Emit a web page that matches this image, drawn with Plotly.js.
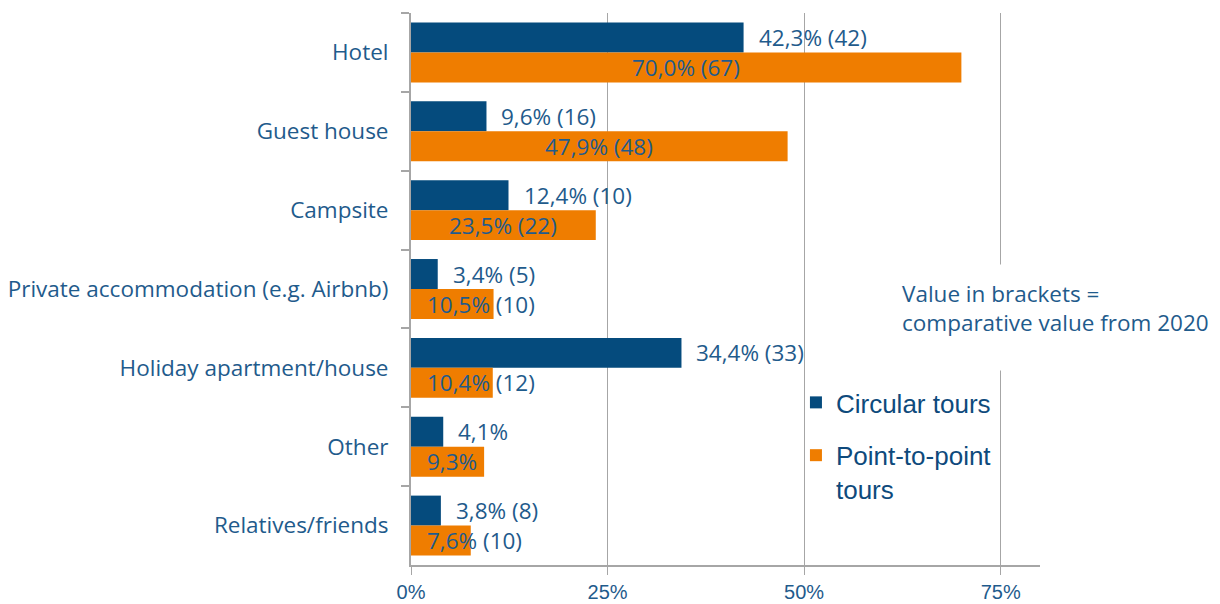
<!DOCTYPE html>
<html>
<head>
<meta charset="utf-8">
<script src="https://cdn.plot.ly/plotly-3.0.1.min.js"></script>
<style>html,body{margin:0;padding:0;background:#fff;}#chart{width:1220px;height:604px;}</style>
</head>
<body>
<div id="chart"></div>
<script>
const categories = ["Hotel", "Guest house", "Campsite", "Private accommodation (e.g. Airbnb)", "Holiday apartment/house", "Other", "Relatives/friends"];
const circularValues = [42.3, 9.6, 12.4, 3.4, 34.4, 4.1, 3.8];
const pointValues = [70.0, 47.9, 23.5, 10.5, 10.4, 9.3, 7.6];
const circularLabels = ["42,3% (42)", "9,6% (16)", "12,4% (10)", "3,4% (5)", "34,4% (33)", "4,1%", "3,8% (8)"];
const pointLabels = ["70,0% (67)", "47,9% (48)", "23,5% (22)", "10,5% (10)", "10,4% (12)", "9,3%", "7,6% (10)"];
const xTickValues = [0, 25, 50, 75];
const xTickLabels = ["0%", "25%", "50%", "75%"];
const noteText = "Value in brackets =<br>comparative value from 2020";

const BLUE = "#054B7D";
const ORANGE = "#EF7D00";
const TEXT = "#1F5B8C";
const GRID = "#A6A6A6";
const FONT = "'Open Sans', Lato, sans-serif";
const W = 400;
const FS = 22.5;

const traces = [
  {type: "bar", orientation: "h", name: "Circular tours", y: categories, x: circularValues,
   marker: {color: BLUE}, legendgroup: "a", hoverinfo: "x+y"},
  {type: "bar", orientation: "h", name: "Point-to-point<br>tours", y: categories, x: pointValues,
   marker: {color: ORANGE}, legendgroup: "b", hoverinfo: "x+y"}
];

const annotations = [];
categories.forEach((c, i) => {
  annotations.push({x: circularValues[i], y: c, xref: "x", yref: "y", text: circularLabels[i],
    showarrow: false, xanchor: "left", yanchor: "middle", xshift: 13, yshift: 15,
    font: {family: FONT, size: FS, weight: W, color: TEXT}});
  const inside = pointValues[i] >= 20;
  annotations.push({x: inside ? pointValues[i] / 2 : 0, y: c, xref: "x", yref: "y", text: pointLabels[i],
    showarrow: false, xanchor: inside ? "center" : "left", yanchor: "middle",
    xshift: inside ? 0 : 14, yshift: -15,
    font: {family: FONT, size: FS, weight: W, color: TEXT}});
});
// white gap in the 75% gridline behind the note
annotations.push({x: 75, y: 0.4484, xref: "x", yref: "paper", text: " ", showarrow: false,
  xanchor: "center", yanchor: "middle", width: 40, height: 105, bgcolor: "#ffffff", borderpad: 0,
  font: {size: 10, color: "#ffffff"}});
annotations.push({x: 0.779, y: 0.4656, xref: "paper", yref: "paper", text: noteText, showarrow: false,
  xanchor: "left", yanchor: "middle", align: "left", borderpad: 0,
  font: {family: FONT, size: FS, weight: W, color: TEXT}});

const layout = {
  width: 1220, height: 604,
  margin: {l: 411, r: 180, t: 13, b: 39},
  paper_bgcolor: "#fff", plot_bgcolor: "#fff",
  barmode: "group", bargap: 0.24, bargroupgap: 0,
  showlegend: true,
  legend: {x: 0.612, y: 0.337, xanchor: "left", yanchor: "top", bgcolor: "rgba(0,0,0,0)",
    font: {family: "'Liberation Sans', Arial, sans-serif", size: 26, color: "#0E4A7C"},
    tracegroupgap: 16, itemclick: false, valign: "top"},
  xaxis: {range: [0, 80], tickvals: xTickValues, ticktext: xTickLabels,
    showgrid: true, gridcolor: GRID, gridwidth: 1, zeroline: false,
    showline: true, linecolor: GRID, linewidth: 2,
    ticks: "outside", ticklen: 8, tickcolor: GRID, tickwidth: 1,
    ticklabelstandoff: 0,
    tickfont: {family: "'Liberation Sans Narrow', 'Arial Narrow', sans-serif", size: 20, color: TEXT},
    fixedrange: true},
  yaxis: {type: "category", autorange: "reversed", showgrid: false, zeroline: false,
    showline: true, linecolor: GRID, linewidth: 2,
    ticks: "outside", ticklen: 8, tickcolor: GRID, tickwidth: 2, tickson: "boundaries",
    ticklabelstandoff: 16,
    tickfont: {family: FONT, size: FS, weight: W, color: TEXT}, fixedrange: true},
  annotations: annotations
};

Plotly.newPlot("chart", traces, layout, {displayModeBar: false});
</script>
</body>
</html>
